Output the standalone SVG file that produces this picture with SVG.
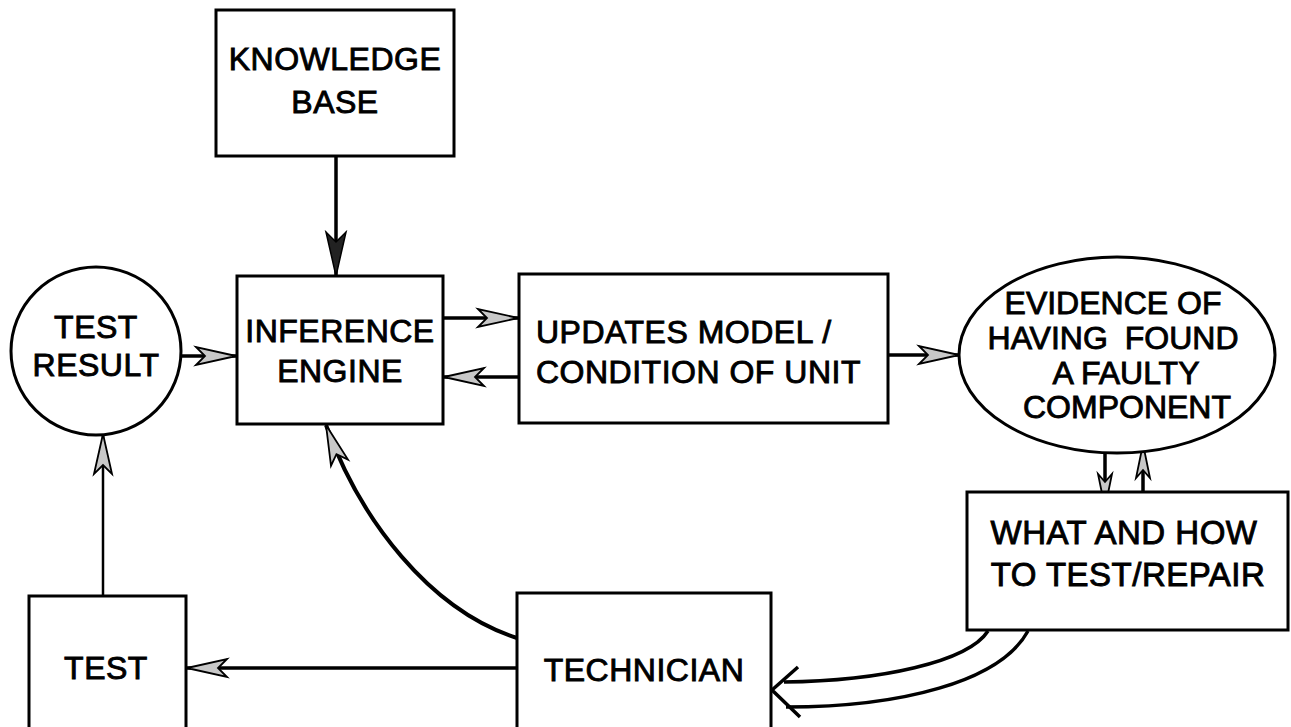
<svg xmlns="http://www.w3.org/2000/svg" width="1291" height="727" viewBox="0 0 1291 727">
  <style>
    .box { fill: #fff; stroke: #000; stroke-width: 3; }
    .lbl { font-family: "Liberation Sans", Arial, sans-serif; font-size: 32px; fill: #000; stroke: #000; stroke-width: 0.9; text-anchor: middle; letter-spacing: 0.5px; }
    .tight { letter-spacing: 0px; }
    .wire { fill: none; stroke: #000; stroke-width: 3.5; }
    .thin { fill: none; stroke: #000; stroke-width: 2.5; }
  </style>
  <defs>
    <!-- stippled dart head -->
    <marker id="dart" markerUnits="userSpaceOnUse" viewBox="-44 -12 46 24" markerWidth="46" markerHeight="24" refX="0" refY="0" orient="auto">
      <path d="M0,0 L-40,-9 L-31,0 L-40,9 Z" fill="#c8c8c8" stroke="#000" stroke-width="1.8" stroke-linejoin="miter"/>
    </marker>
    <marker id="dartSmall" markerUnits="userSpaceOnUse" viewBox="-40 -10 42 20" markerWidth="42" markerHeight="20" refX="0" refY="0" orient="auto">
      <path d="M0,0 L-34,-7 L-26,0 L-34,7 Z" fill="#c8c8c8" stroke="#000" stroke-width="1.8"/>
    </marker>
    <marker id="dartDark" markerUnits="userSpaceOnUse" viewBox="-48 -12 50 24" markerWidth="50" markerHeight="24" refX="0" refY="0" orient="auto">
      <path d="M0,0 L-44,-10 L-34,0 L-44,10 Z" fill="#222" stroke="#000" stroke-width="1.5"/>
    </marker>
  </defs>

  <g id="connectors">
    <line class="wire" x1="336" y1="157" x2="336" y2="276" marker-end="url(#dartDark)"/>
    <line class="wire" x1="181" y1="356" x2="236" y2="356" marker-end="url(#dart)"/>
    <line class="wire" x1="444" y1="318" x2="518" y2="318" marker-end="url(#dart)"/>
    <line class="wire" x1="519" y1="377" x2="444" y2="377" marker-end="url(#dart)"/>
    <line class="wire" x1="889" y1="355" x2="959" y2="355" marker-end="url(#dart)"/>
    <line class="wire" x1="1105" y1="452" x2="1105" y2="508" marker-end="url(#dartSmall)"/>
    <line class="wire" x1="1143" y1="492" x2="1143" y2="444" marker-end="url(#dartSmall)"/>
    <line class="wire" x1="517" y1="668" x2="187" y2="668" marker-end="url(#dart)"/>
    <line class="thin" x1="103" y1="596" x2="103" y2="434" marker-end="url(#dart)"/>
    <path class="wire" d="M517,638 C430,610 360,520 326,425" style="stroke-width:4" marker-end="url(#dart)"/>
    <!-- broad hollow arrow from the repair box to the technician -->
    <path class="wire" d="M988,631 C968,662 880,681 784,682"/>
    <path class="wire" d="M1028,631 C1000,682 900,707 786,707"/>
    <polyline class="wire" points="798,667 772,690 800,717"/>
  </g>

  <g id="knowledge-base">
    <rect class="box" x="216" y="10" width="238" height="146"/>
    <text class="lbl" x="335" y="70">KNOWLEDGE</text>
    <text class="lbl" x="335" y="113">BASE</text>
  </g>

  <g id="test-result">
    <ellipse cx="96" cy="351" rx="85" ry="84" fill="#fff" stroke="#000" stroke-width="3"/>
    <text class="lbl" x="96" y="338">TEST</text>
    <text class="lbl" x="96" y="376">RESULT</text>
  </g>

  <g id="inference-engine">
    <rect class="box" x="237" y="276" width="206" height="148"/>
    <text class="lbl" x="340" y="342">INFERENCE</text>
    <text class="lbl" x="340" y="382">ENGINE</text>
  </g>

  <g id="updates-model">
    <rect class="box" x="519" y="274" width="369" height="149"/>
    <text class="lbl" x="536" y="343" style="text-anchor:start">UPDATES MODEL /</text>
    <text class="lbl" x="536" y="383" style="text-anchor:start">CONDITION OF UNIT</text>
  </g>

  <g id="evidence">
    <ellipse cx="1117" cy="355" rx="158" ry="98" fill="#fff" stroke="#000" stroke-width="3"/>
    <text class="lbl tight" x="1113" y="314">EVIDENCE OF</text>
    <text class="lbl tight" x="1113" y="349" style="word-spacing:8px">HAVING FOUND</text>
    <text class="lbl tight" x="1126" y="384">A FAULTY</text>
    <text class="lbl tight" x="1127" y="418">COMPONENT</text>
  </g>

  <g id="what-and-how">
    <rect class="box" x="967" y="492" width="321" height="138"/>
    <text class="lbl" x="1124" y="544" style="font-size:33px">WHAT AND HOW</text>
    <text class="lbl" x="1128" y="586" style="font-size:33px">TO TEST/REPAIR</text>
  </g>

  <g id="test">
    <rect class="box" x="29" y="596" width="157" height="140"/>
    <text class="lbl" x="106" y="679">TEST</text>
  </g>

  <g id="technician">
    <rect class="box" x="517" y="593" width="254" height="143"/>
    <text class="lbl" x="644" y="681">TECHNICIAN</text>
  </g>
</svg>
